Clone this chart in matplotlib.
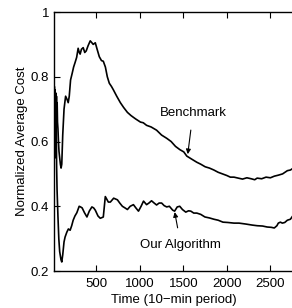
import matplotlib
matplotlib.use('Agg')
from matplotlib import pyplot as plt
from matplotlib.ticker import FuncFormatter

plt.rcParams['font.family'] = ['Liberation Sans', 'DejaVu Sans']

# Benchmark curve
bench_t = [15, 19, 23, 27, 31, 35, 39, 43, 47, 51, 55, 60, 66, 72, 80, 88, 96, 104,
           115, 130, 148, 165, 178, 190, 205, 223, 240, 258, 275, 292, 305, 315, 330,
           350, 368, 385, 405, 431, 450, 465, 489, 510, 535, 560, 581, 605, 627, 650,
           675, 696, 735, 777, 815, 858, 900, 951, 1008, 1040, 1078, 1130, 1193, 1250,
           1309, 1360, 1410, 1460, 1505, 1540, 1600, 1655, 1700, 1751, 1800, 1851, 1900,
           1950, 2000, 2040, 2082, 2130, 2180, 2230, 2280, 2320, 2348, 2400, 2450, 2500,
           2545, 2590, 2640, 2695, 2730, 2764]
bench_v = [0.62, 0.77, 0.66, 0.76, 0.69, 0.75, 0.68, 0.74, 0.69, 0.72, 0.66, 0.64,
           0.60, 0.57, 0.55, 0.53, 0.518, 0.53, 0.62, 0.70, 0.74, 0.73, 0.72, 0.74,
           0.79, 0.81, 0.83, 0.845, 0.86, 0.888, 0.875, 0.87, 0.885, 0.89, 0.875, 0.88,
           0.895, 0.911, 0.905, 0.90, 0.905, 0.885, 0.862, 0.85, 0.848, 0.83, 0.80,
           0.78, 0.77, 0.76, 0.74, 0.72, 0.705, 0.69, 0.68, 0.67, 0.66, 0.658, 0.65,
           0.645, 0.635, 0.62, 0.61, 0.60, 0.585, 0.575, 0.568, 0.555, 0.545, 0.536,
           0.53, 0.522, 0.518, 0.512, 0.505, 0.50, 0.495, 0.49, 0.49, 0.487, 0.484,
           0.488, 0.485, 0.482, 0.487, 0.485, 0.49, 0.488, 0.493, 0.496, 0.50, 0.51,
           0.512, 0.518]

# Our Algorithm curve
algo_t = [15, 19, 23, 27, 31, 35, 40, 45, 50, 60, 70, 80, 95, 104, 115, 130, 142,
          162, 180, 200, 218, 235, 255, 277, 304, 320, 338, 365, 393, 420, 450, 470,
          489, 520, 546, 565, 581, 604, 639, 662, 700, 743, 770, 800, 830, 858, 890,
          927, 955, 985, 1015, 1043, 1078, 1105, 1135, 1165, 1193, 1222, 1251, 1280,
          1309, 1340, 1378, 1400, 1430, 1459, 1490, 1528, 1560, 1586, 1620, 1655, 1700,
          1748, 1800, 1851, 1900, 1955, 2010, 2082, 2140, 2221, 2290, 2348, 2410, 2463,
          2510, 2545, 2575, 2591, 2615, 2637, 2665, 2695, 2730, 2764]
algo_v = [0.74, 0.60, 0.76, 0.58, 0.72, 0.55, 0.68, 0.52, 0.45, 0.37, 0.30, 0.26,
          0.235, 0.228, 0.25, 0.29, 0.305, 0.32, 0.33, 0.326, 0.34, 0.357, 0.37, 0.38,
          0.40, 0.398, 0.395, 0.38, 0.367, 0.385, 0.398, 0.395, 0.388, 0.37, 0.363,
          0.365, 0.367, 0.43, 0.413, 0.413, 0.425, 0.42, 0.41, 0.40, 0.395, 0.39,
          0.40, 0.405, 0.395, 0.385, 0.40, 0.416, 0.405, 0.41, 0.417, 0.41, 0.404,
          0.41, 0.41, 0.402, 0.398, 0.40, 0.388, 0.385, 0.398, 0.40, 0.39, 0.382,
          0.386, 0.385, 0.379, 0.379, 0.375, 0.367, 0.364, 0.36, 0.357, 0.351, 0.35,
          0.348, 0.348, 0.345, 0.342, 0.34, 0.339, 0.336, 0.335, 0.333, 0.34, 0.348,
          0.351, 0.348, 0.35, 0.357, 0.36, 0.373]

x_ticks = [500, 1000, 1500, 2000, 2500]
y_ticks = [0.2, 0.4, 0.6, 0.8, 1.0]

fig = plt.figure(figsize=(2.92, 3.08), dpi=100)
ax = fig.add_axes([0.185, 0.12, 0.82, 0.841])

ax.plot(bench_t, bench_v, color='black', lw=1.2)
ax.plot(algo_t, algo_v, color='black', lw=1.2)

ax.set_xlim(15, 2765)
ax.set_ylim(0.2, 1.0)
ax.set_xticks(x_ticks)
ax.set_yticks(y_ticks)
ax.yaxis.set_major_formatter(FuncFormatter(lambda v, p: '%g' % v))
ax.tick_params(direction='in', length=4, width=0.8, labelsize=9.5, top=True, right=False)
ax.tick_params(axis='x', pad=5)
ax.spines['right'].set_visible(False)
for s in ['left', 'top', 'bottom']:
    ax.spines[s].set_linewidth(1.0)

ax.set_xlabel('Time (10\u2212min period)', fontsize=9.5, labelpad=3)
ax.set_ylabel('Normalized Average Cost', fontsize=9.5, labelpad=2)

ax.annotate('Benchmark', xy=(1551, 0.561), xytext=(1611, 0.688),
            ha='center', va='center', fontsize=9.5,
            arrowprops=dict(arrowstyle='-|>', color='black', lw=0.8,
                            mutation_scale=7, shrinkA=6, shrinkB=0))
ax.annotate('Our Algorithm', xy=(1401, 0.382), xytext=(1471, 0.281),
            ha='center', va='center', fontsize=9.5,
            arrowprops=dict(arrowstyle='-|>', color='black', lw=0.8,
                            mutation_scale=7, shrinkA=6, shrinkB=0))

fig.savefig('out.png', dpi=100)
